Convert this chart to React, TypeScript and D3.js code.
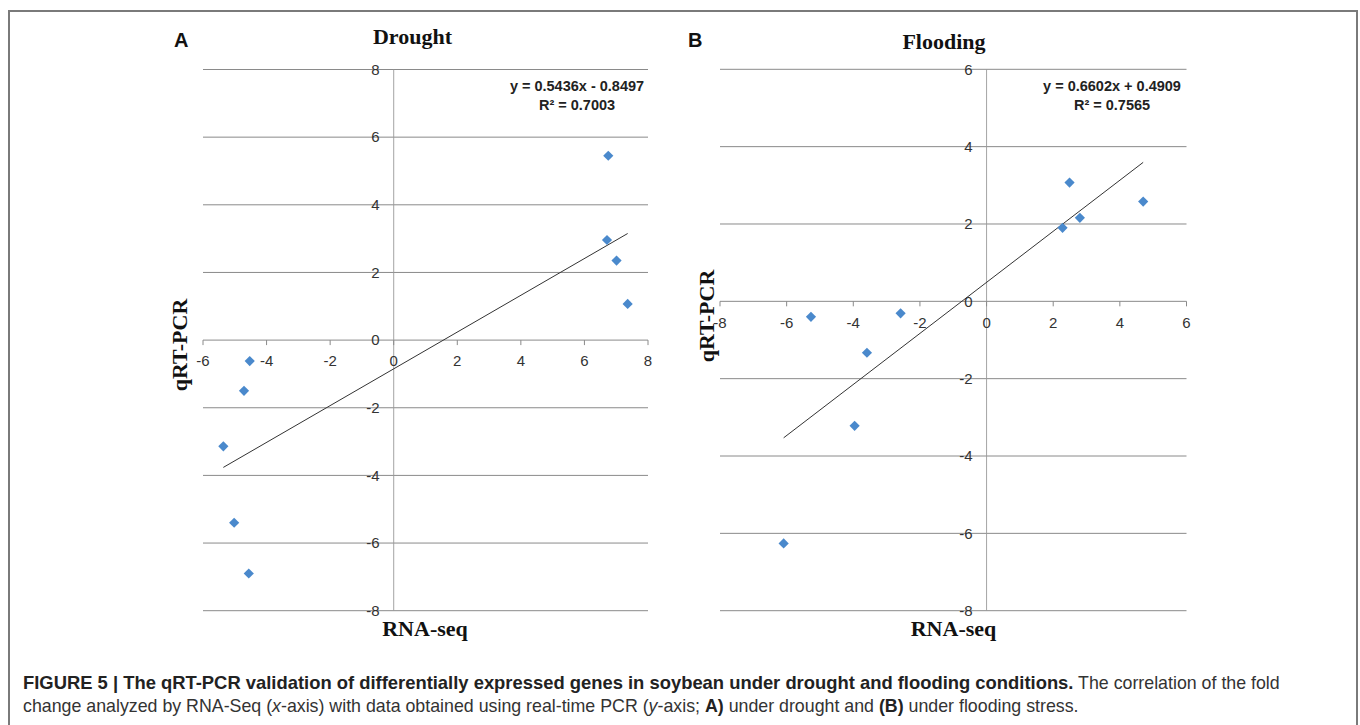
import React from 'react';
import * as d3 from 'd3';

// fold change values (RNA-seq on x, qRT-PCR on y)
const droughtRna = [6.75, 6.71, 7.01, 7.36, -4.53, -4.71, -5.36, -5.02, -4.56];
const droughtPcr = [5.45, 2.96, 2.35, 1.07, -0.62, -1.5, -3.14, -5.4, -6.9];
const floodRna = [2.49, 4.7, 2.8, 2.28, -5.27, -2.58, -3.59, -3.96, -6.09];
const floodPcr = [3.07, 2.58, 2.16, 1.9, -0.4, -0.31, -1.33, -3.22, -6.26];

const droughtXTicks = [-6, -4, -2, 0, 2, 4, 6, 8];
const droughtYTicks = [-8, -6, -4, -2, 0, 2, 4, 6, 8];
const floodXTicks = [-8, -6, -4, -2, 0, 2, 4, 6];
const floodYTicks = [-8, -6, -4, -2, 0, 2, 4, 6];

const droughtFit = { slope: 0.5436, intercept: -0.8497, eq: 'y = 0.5436x - 0.8497', r2: 'R² = 0.7003' };
const floodFit = { slope: 0.6602, intercept: 0.4909, eq: 'y = 0.6602x + 0.4909', r2: 'R² = 0.7565' };

const SANS = '"Liberation Sans", Arial, sans-serif';
const SERIF = '"Liberation Serif", "Times New Roman", serif';

function Panel(props: any) {
  const { xs, ys, xTicks, yTicks, box, fit, lab } = props;
  const x = d3.scaleLinear().domain(d3.extent(xTicks) as any).range([box.left, box.right]);
  const y = d3.scaleLinear().domain(d3.extent(yTicks) as any).range([box.bottom, box.top]);
  const diamond = d3.symbol(d3.symbolSquare, 52)() as string;
  const lo = d3.min(xs) as number;
  const hi = d3.max(xs) as number;
  const trend = d3.line()([
    [x(lo), y(fit.slope * lo + fit.intercept)],
    [x(hi), y(fit.slope * hi + fit.intercept)],
  ]) as string;
  const x0 = x(0), y0 = y(0);

  return (
    <g>
      {yTicks.map((t: number) => (
        <line key={'g' + t} x1={box.left} x2={box.right} y1={y(t)} y2={y(t)} stroke="#8a8a8a" strokeWidth={1} />
      ))}
      <line x1={x0} x2={x0} y1={box.top} y2={box.bottom} stroke="#9a9a9a" strokeWidth={0.9} />
      {xTicks.map((t: number) => (
        <line key={'t' + t} x1={x(t)} x2={x(t)} y1={y0} y2={y0 + 5} stroke="#8a8a8a" strokeWidth={1} />
      ))}
      {yTicks.map((t: number) => (
        <text key={'yl' + t} x={x0 - 14} y={y(t)} dy="0.35em" textAnchor="end"
          fontFamily={SANS} fontSize={15} fill="#333">{t}</text>
      ))}
      {xTicks.map((t: number) => (
        <text key={'xl' + t} x={x(t)} y={y0 + 21} dy="0.35em" textAnchor="middle"
          fontFamily={SANS} fontSize={15} fill="#333">{t}</text>
      ))}
      <path d={trend} stroke="#333" strokeWidth={1} fill="none" />
      {xs.map((v: number, i: number) => (
        <path key={'p' + i} d={diamond} transform={`translate(${x(v)},${y(ys[i])}) rotate(45)`} fill="#4a89cc" />
      ))}
      <text x={lab.eqX} y={91} textAnchor="middle" fontFamily={SANS} fontWeight="bold" fontSize={14.5} fill="#222">{fit.eq}</text>
      <text x={lab.eqX} y={110} textAnchor="middle" fontFamily={SANS} fontWeight="bold" fontSize={14.5} fill="#222">{fit.r2}</text>
      <text x={lab.letterX} y={47} fontFamily={SANS} fontWeight="bold" fontSize={20} fill="#111">{lab.letter}</text>
      <text x={lab.titleX} y={lab.titleY} textAnchor="middle" fontFamily={SERIF} fontWeight="bold" fontSize={22} fill="#111">{lab.title}</text>
      <text transform={`translate(${lab.ylabX},${lab.ylabY}) rotate(-90)`} textAnchor="middle"
        fontFamily={SERIF} fontWeight="bold" fontSize={22} fill="#111">qRT-PCR</text>
      <text x={lab.xlabX} y={636} textAnchor="middle" fontFamily={SERIF} fontWeight="bold" fontSize={22} fill="#111">RNA-seq</text>
    </g>
  );
}

export default function App() {
  return (
    <div style={{ position: 'absolute', left: 0, top: 0 }}>
      <svg width={1360} height={725} style={{ display: 'block', background: '#fff' }}>
        <rect x={9} y={11} width={1348} height={720} fill="none" stroke="#7a7a7a" strokeWidth={2} />
        <Panel xs={droughtRna} ys={droughtPcr} xTicks={droughtXTicks} yTicks={droughtYTicks} fit={droughtFit}
          box={{ left: 203, right: 648, top: 69.5, bottom: 610.7 }}
          lab={{ letter: 'A', letterX: 174, title: 'Drought', titleX: 412.5, titleY: 44, eqX: 577, ylabX: 187, ylabY: 345, xlabX: 425 }} />
        <Panel xs={floodRna} ys={floodPcr} xTicks={floodXTicks} yTicks={floodYTicks} fit={floodFit}
          box={{ left: 720, right: 1186.5, top: 69.3, bottom: 610.7 }}
          lab={{ letter: 'B', letterX: 688, title: 'Flooding', titleX: 944, titleY: 49, eqX: 1112, ylabX: 714, ylabY: 316, xlabX: 953.5 }} />
        <text x={23} y={689} fontFamily={SANS} fontSize={17.8} fill="#333">
          <tspan fontWeight="bold" fontSize={18.4} fill="#222">FIGURE 5 | The qRT-PCR validation of differentially expressed genes in soybean under drought and flooding conditions.</tspan>
          <tspan> The correlation of the fold</tspan>
        </text>
        <text x={23} y={712} fontFamily={SANS} fontSize={17.8} fill="#333">
          <tspan>change analyzed by RNA-Seq (</tspan>
          <tspan fontStyle="italic">x</tspan>
          <tspan>-axis) with data obtained using real-time PCR (</tspan>
          <tspan fontStyle="italic">y</tspan>
          <tspan>-axis; </tspan>
          <tspan fontWeight="bold" fill="#222">A)</tspan>
          <tspan> under drought and </tspan>
          <tspan fontWeight="bold" fill="#222">(B)</tspan>
          <tspan> under flooding stress.</tspan>
        </text>
      </svg>
    </div>
  );
}
